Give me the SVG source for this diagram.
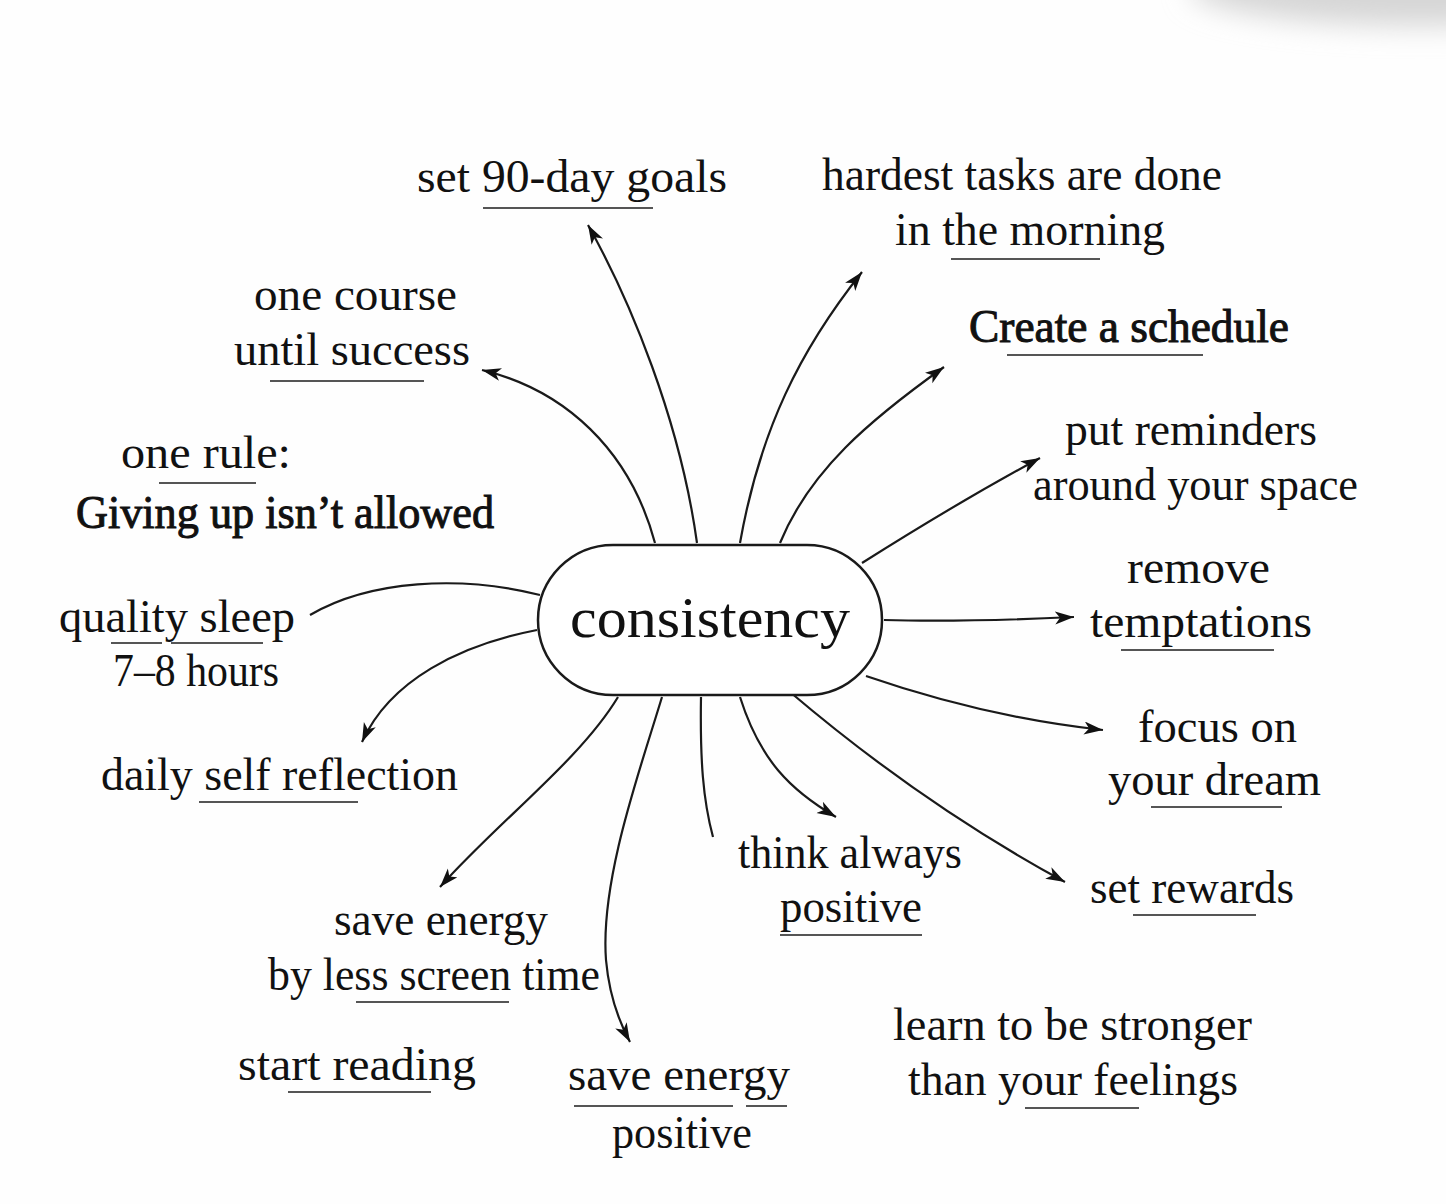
<svg xmlns="http://www.w3.org/2000/svg" width="1446" height="1204" viewBox="0 0 1446 1204">
  <style>
    .t { font-family: "Liberation Serif", "Times New Roman", serif; font-size: 46px; fill: #111; }
    .b { stroke: #111; stroke-width: 1; }
    .u { stroke: #555; stroke-width: 2; }
    .c { fill: none; stroke: #1a1a1a; stroke-width: 2.2; }
  </style>
  <defs>
    <marker id="arr" markerUnits="userSpaceOnUse" markerWidth="22" markerHeight="14" refX="19" refY="6.5" orient="auto">
      <path d="M0,0 L19,6.5 L0,13 L5,6.5 z" fill="#111"/>
    </marker>
    <filter id="blur" x="-50%" y="-50%" width="200%" height="200%">
      <feGaussianBlur stdDeviation="14"/>
    </filter>
  </defs>
  <rect width="1446" height="1204" fill="#fefefe"/>
  <ellipse cx="1420" cy="-12" rx="230" ry="38" fill="#d6d6d6" filter="url(#blur)"/>

  <g id="connectors">
    <path class="c" d="M697,543 C680,420 630,300 588,225" marker-end="url(#arr)"/>
    <path class="c" d="M655,543 C630,450 565,390 482,370" marker-end="url(#arr)"/>
    <path class="c" d="M740,543 C760,430 800,350 862,272" marker-end="url(#arr)"/>
    <path class="c" d="M780,543 C810,470 870,420 944,367" marker-end="url(#arr)"/>
    <path class="c" d="M862,563 C930,520 990,485 1040,458" marker-end="url(#arr)"/>
    <path class="c" d="M884,620 C950,622 1010,620 1074,617" marker-end="url(#arr)"/>
    <path class="c" d="M866,676 C950,705 1030,722 1103,730" marker-end="url(#arr)"/>
    <path class="c" d="M790,692 C870,760 960,825 1065,882" marker-end="url(#arr)"/>
    <path class="c" d="M740,697 C760,760 790,790 836,817" marker-end="url(#arr)"/>
    <path class="c" d="M701,697 C700,760 703,800 713,837"/>
    <path class="c" d="M662,697 C640,770 600,880 606,960 Q610,1005 630,1042" marker-end="url(#arr)"/>
    <path class="c" d="M618,697 C580,760 500,820 440,887" marker-end="url(#arr)"/>
    <path class="c" d="M537,630 C460,645 390,680 362,742" marker-end="url(#arr)"/>
    <path class="c" d="M540,595 C460,575 370,580 310,615"/>
  </g>

  <g id="consistency">
    <rect x="538" y="545" width="344" height="150" rx="75" ry="75" fill="#fff" stroke="#1a1a1a" stroke-width="2.5"/>
    <text class="t" x="570" y="637" style="font-size:58px" textLength="280" lengthAdjust="spacingAndGlyphs">consistency</text>
  </g>

  <g id="goals">
    <text class="t" x="417" y="192" textLength="310" lengthAdjust="spacingAndGlyphs">set 90-day goals</text>
    <line class="u" x1="483" y1="208" x2="653" y2="208"/>
  </g>

  <g id="hardest">
    <text class="t" x="822" y="190" textLength="400" lengthAdjust="spacingAndGlyphs">hardest tasks are done</text>
    <text class="t" x="895" y="245" textLength="270" lengthAdjust="spacingAndGlyphs">in the morning</text>
    <line class="u" x1="951" y1="259" x2="1100" y2="259"/>
  </g>

  <g id="course">
    <text class="t" x="254" y="310" textLength="203" lengthAdjust="spacingAndGlyphs">one course</text>
    <text class="t" x="234" y="365" textLength="236" lengthAdjust="spacingAndGlyphs">until success</text>
    <line class="u" x1="270" y1="381" x2="424" y2="381"/>
  </g>

  <g id="schedule">
    <text class="t b" x="969" y="342" textLength="320" lengthAdjust="spacingAndGlyphs">Create a schedule</text>
    <line class="u" x1="1007" y1="355" x2="1203" y2="355"/>
  </g>

  <g id="rule">
    <text class="t" x="121" y="468" textLength="170" lengthAdjust="spacingAndGlyphs">one rule:</text>
    <line class="u" x1="159" y1="483" x2="256" y2="483"/>
    <text class="t b" x="76" y="528" textLength="418" lengthAdjust="spacingAndGlyphs">Giving up isn’t allowed</text>
  </g>

  <g id="reminders">
    <text class="t" x="1065" y="445" textLength="252" lengthAdjust="spacingAndGlyphs">put reminders</text>
    <text class="t" x="1033" y="500" textLength="325" lengthAdjust="spacingAndGlyphs">around your space</text>
  </g>

  <g id="temptations">
    <text class="t" x="1127" y="583" textLength="143" lengthAdjust="spacingAndGlyphs">remove</text>
    <text class="t" x="1090" y="637" textLength="222" lengthAdjust="spacingAndGlyphs">temptations</text>
    <line class="u" x1="1121" y1="650" x2="1274" y2="650"/>
  </g>

  <g id="sleep">
    <text class="t" x="59" y="632" textLength="236" lengthAdjust="spacingAndGlyphs">quality sleep</text>
    <line class="u" x1="111" y1="643" x2="162" y2="643"/>
    <line class="u" x1="171" y1="643" x2="263" y2="643"/>
    <text class="t" x="113" y="686" textLength="166" lengthAdjust="spacingAndGlyphs">7–8 hours</text>
  </g>

  <g id="dream">
    <text class="t" x="1138" y="742" textLength="159" lengthAdjust="spacingAndGlyphs">focus on</text>
    <text class="t" x="1108" y="795" textLength="213" lengthAdjust="spacingAndGlyphs">your dream</text>
    <line class="u" x1="1151" y1="807" x2="1282" y2="807"/>
  </g>

  <g id="reflection">
    <text class="t" x="101" y="790" textLength="357" lengthAdjust="spacingAndGlyphs">daily self reflection</text>
    <line class="u" x1="199" y1="802" x2="358" y2="802"/>
  </g>

  <g id="think">
    <text class="t" x="738" y="868" textLength="224" lengthAdjust="spacingAndGlyphs">think always</text>
    <text class="t" x="780" y="922" textLength="142" lengthAdjust="spacingAndGlyphs">positive</text>
    <line class="u" x1="780" y1="935" x2="922" y2="935"/>
  </g>

  <g id="rewards">
    <text class="t" x="1090" y="903" textLength="204" lengthAdjust="spacingAndGlyphs">set rewards</text>
    <line class="u" x1="1133" y1="915" x2="1256" y2="915"/>
  </g>

  <g id="screen">
    <text class="t" x="334" y="935" textLength="214" lengthAdjust="spacingAndGlyphs">save energy</text>
    <text class="t" x="268" y="990" textLength="332" lengthAdjust="spacingAndGlyphs">by less screen time</text>
    <line class="u" x1="356" y1="1002" x2="509" y2="1002"/>
  </g>

  <g id="stronger">
    <text class="t" x="893" y="1040" textLength="359" lengthAdjust="spacingAndGlyphs">learn to be stronger</text>
    <text class="t" x="908" y="1095" textLength="330" lengthAdjust="spacingAndGlyphs">than your feelings</text>
    <line class="u" x1="1025" y1="1108" x2="1139" y2="1108"/>
  </g>

  <g id="reading">
    <text class="t" x="238" y="1080" textLength="238" lengthAdjust="spacingAndGlyphs">start reading</text>
    <line class="u" x1="288" y1="1092" x2="431" y2="1092"/>
  </g>

  <g id="energy-positive">
    <text class="t" x="568" y="1090" textLength="222" lengthAdjust="spacingAndGlyphs">save energy</text>
    <line class="u" x1="574" y1="1106" x2="733" y2="1106"/>
    <line class="u" x1="746" y1="1106" x2="787" y2="1106"/>
    <text class="t" x="612" y="1148" textLength="140" lengthAdjust="spacingAndGlyphs">positive</text>
  </g>
</svg>
